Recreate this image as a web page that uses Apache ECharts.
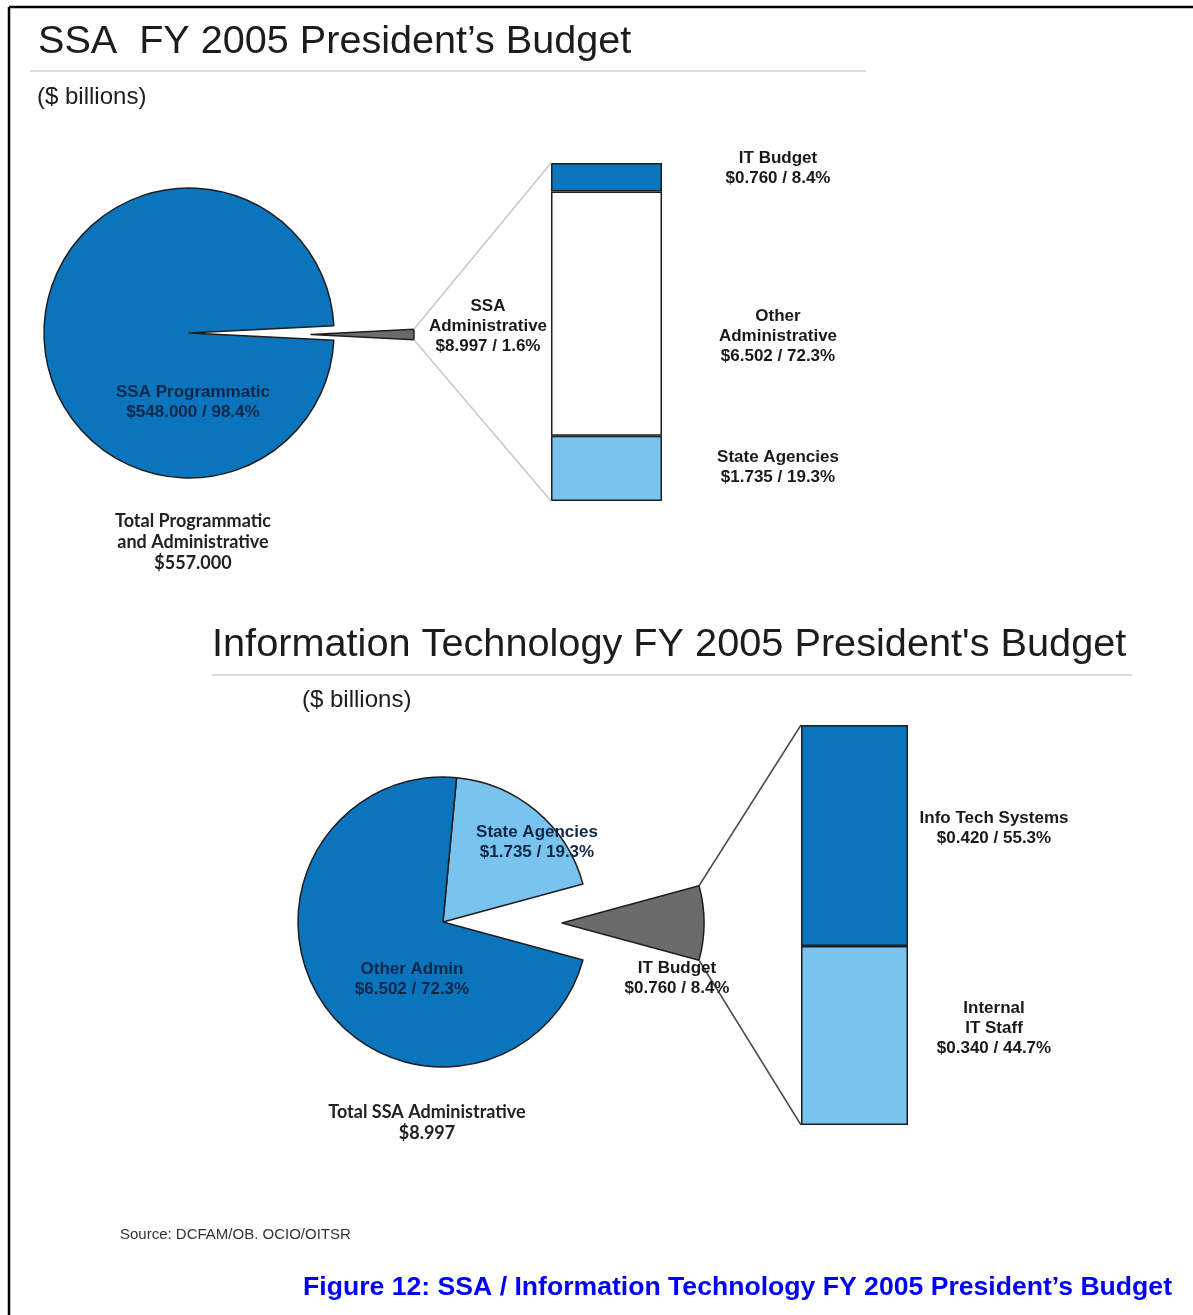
<!DOCTYPE html>
<html><head><meta charset="utf-8">
<script src="https://cdn.jsdelivr.net/npm/echarts@6/dist/echarts.min.js"></script>
<style>html,body{margin:0;padding:0;background:#fff;} #c{width:1193px;height:1315px;}</style>
</head><body><div id="c"></div>
<script>
// ---------- data ----------
const pie1Names = ['SSA\nAdministrative', 'SSA Programmatic'];
const pie1Values = [8.997, 548.000];
const pie1Pcts = [1.6, 98.4];
const pie1Total = 557.000;
const bar1Names = ['State Agencies', 'Other\nAdministrative', 'IT Budget'];
const bar1Values = [1.735, 6.502, 0.760];
const bar1Pcts = [19.3, 72.3, 8.4];
const pie2Names = ['State Agencies', 'IT Budget', 'Other Admin'];
const pie2Values = [1.735, 0.760, 6.502];
const pie2Pcts = [19.3, 8.4, 72.3];
const pie2Total = 8.997;
const bar2Names = ['Internal\nIT Staff', 'Info Tech Systems'];
const bar2Values = [0.340, 0.420];
const bar2Pcts = [44.7, 55.3];
const titles = ['SSA  FY 2005 President\u2019s Budget', "Information Technology FY 2005 President's Budget"];
const unitText = '($ billions)';
const sourceText = 'Source: DCFAM/OB. OCIO/OITSR';
const captionText = 'Figure 12: SSA / Information Technology FY 2005 President\u2019s Budget';

// ---------- styles / layout ----------
const DARK = '#0A74BD', LIGHT = '#79C3EE', GREY = '#6B6B6B', EDGE = '#1E1E1E', NAVY = '#0E2747';
const LBL = 'Liberation Sans, Arial, sans-serif';
const P1 = {cx: 189, cy: 333, r: 145, ex: 311, er: 103};
const P2 = {cx: 443, cy: 922, r: 145, ex: 562, er: 142};
const B1 = {left: 551, top: 163, width: 111, height: 338};
const B2 = {left: 801, top: 725, width: 107, height: 400};

const fmt = (v, p) => '$' + v.toFixed(3) + ' / ' + p.toFixed(1) + '%';
const sum = a => a.reduce((s, v) => s + v, 0);

// pie 1 angles
const p1Sum = sum(pie1Values);
const p1Ang = pie1Values[0] / p1Sum * 360;
const p1Start = p1Ang / 2;
// pie 2 angles
const p2Sum = sum(pie2Values);
const p2State = pie2Values[0] / p2Sum * 360;
const p2It = pie2Values[1] / p2Sum * 360;
const p2Start = p2State + p2It / 2;

const none = {color: 'transparent', borderWidth: 0};
function pieSeries(center, r, start, data) {
  return {type: 'pie', center: center, radius: r, startAngle: start, clockwise: true,
    silent: true, animation: false, label: {show: false}, labelLine: {show: false},
    emphasis: {disabled: true}, data: data};
}
const pieEdge = c => ({color: c, borderColor: EDGE, borderWidth: 1.5});

const series = [
  pieSeries([P1.cx, P1.cy], P1.r, p1Start, [
    {name: pie1Names[0], value: pie1Values[0], itemStyle: none},
    {name: pie1Names[1], value: pie1Values[1], itemStyle: pieEdge(DARK)}]),
  pieSeries([P1.ex, P1.cy + 1.5], P1.er, p1Start, [
    {name: pie1Names[0], value: pie1Values[0], itemStyle: pieEdge(GREY)},
    {name: pie1Names[1], value: pie1Values[1], itemStyle: none}]),
  pieSeries([P2.cx, P2.cy], P2.r, p2Start, [
    {name: pie2Names[0], value: pie2Values[0], itemStyle: pieEdge(LIGHT)},
    {name: pie2Names[1], value: pie2Values[1], itemStyle: none},
    {name: pie2Names[2], value: pie2Values[2], itemStyle: pieEdge(DARK)}]),
  pieSeries([P2.ex, P2.cy + 1], P2.er, p2Start, [
    {name: pie2Names[0], value: pie2Values[0], itemStyle: none},
    {name: pie2Names[1], value: pie2Values[1], itemStyle: pieEdge(GREY)},
    {name: pie2Names[2], value: pie2Values[2], itemStyle: none}])
];

const bar1Colors = [LIGHT, '#FFFFFF', DARK];
const bar1Dy = [-1.5, 23, -9];
bar1Names.forEach((n, i) => series.push({
  type: 'bar', xAxisIndex: 0, yAxisIndex: 0, stack: 'b1', barWidth: '100%', silent: true, animation: false,
  itemStyle: {color: bar1Colors[i], borderColor: EDGE, borderWidth: 1.5},
  label: {show: true, position: [227, '50%'], align: 'center', verticalAlign: 'middle', offset: [0, bar1Dy[i]],
    fontFamily: LBL, fontWeight: 'bold', fontSize: 17, lineHeight: 20, color: '#1A1A1A',
    formatter: () => n + '\n' + fmt(bar1Values[i], bar1Pcts[i])},
  data: [bar1Values[i]]
}));
const bar2Colors = [LIGHT, DARK];
const bar2Dy = [-7.5, -7.5];
bar2Names.forEach((n, i) => series.push({
  type: 'bar', xAxisIndex: 1, yAxisIndex: 1, stack: 'b2', barWidth: '100%', silent: true, animation: false,
  itemStyle: {color: bar2Colors[i], borderColor: EDGE, borderWidth: 1.5},
  label: {show: true, position: [193, '50%'], align: 'center', verticalAlign: 'middle', offset: [0, bar2Dy[i]],
    fontFamily: LBL, fontWeight: 'bold', fontSize: 17, lineHeight: 20, color: '#1A1A1A',
    formatter: () => n + '\n' + fmt(bar2Values[i], bar2Pcts[i])},
  data: [bar2Values[i]]
}));

// ---------- annotations ----------
function txt(x, y, text, o) {
  return {type: 'text', x: x, y: y, silent: true, z: 100,
    style: Object.assign({text: text, fontFamily: LBL, fontWeight: 'bold', fontSize: 17, lineHeight: 20,
      fill: '#1A1A1A', align: 'center', verticalAlign: 'middle'}, o || {})};
}
function line(x1, y1, x2, y2, stroke, w) {
  return {type: 'line', silent: true, z: 50, shape: {x1, y1, x2, y2}, style: {stroke: stroke, lineWidth: w}};
}
const rad = d => d * Math.PI / 180;
// connector lines (grey slice corners -> bar corners)
const c1a = [P1.ex + P1.er * Math.cos(rad(p1Ang / 2)), P1.cy + 1.5 - P1.er * Math.sin(rad(p1Ang / 2))];
const c1b = [P1.ex + P1.er * Math.cos(rad(p1Ang / 2)), P1.cy + 1.5 + P1.er * Math.sin(rad(p1Ang / 2))];
const c2a = [P2.ex + P2.er * Math.cos(rad(p2It / 2)), P2.cy + 1 - P2.er * Math.sin(rad(p2It / 2))];
const c2b = [P2.ex + P2.er * Math.cos(rad(p2It / 2)), P2.cy + 1 + P2.er * Math.sin(rad(p2It / 2))];

const graphics = [
  line(9, 7, 1193, 7, '#000', 2.5),
  line(9, 7, 9, 1315, '#000', 2.5),
  txt(38, 42, titles[0], {align: 'left', fontWeight: 'normal', fontSize: 39.6, fill: '#1C1C1C'}),
  line(30, 71, 866, 71, '#CFCFCF', 1.5),
  txt(37, 97, unitText, {align: 'left', fontWeight: 'normal', fontSize: 24, fill: '#1C1C1C'}),
  txt(212, 645, titles[1], {align: 'left', fontWeight: 'normal', fontSize: 39.7, fill: '#1C1C1C'}),
  line(212, 675, 1132, 675, '#CFCFCF', 1.5),
  txt(302, 700, unitText, {align: 'left', fontWeight: 'normal', fontSize: 24, fill: '#1C1C1C'}),
  line(c1a[0], c1a[1], B1.left, B1.top, '#C8C8C8', 1.5),
  line(c1b[0], c1b[1], B1.left, B1.top + B1.height, '#C8C8C8', 1.5),
  line(c2a[0], c2a[1], B2.left, B2.top, '#4A4A4A', 1.5),
  line(c2b[0], c2b[1], B2.left, B2.top + B2.height, '#4A4A4A', 1.5),
  txt(193, 402, pie1Names[1] + '\n' + fmt(pie1Values[1], pie1Pcts[1]), {fill: NAVY}),
  txt(488, 326, pie1Names[0] + '\n' + fmt(pie1Values[0], pie1Pcts[0])),
  txt(193, 542, 'Total Programmatic\nand Administrative\n$' + pie1Total.toFixed(3),
    {fontFamily: 'Lato, sans-serif', fontSize: 18, lineHeight: 21, fill: '#222'}),
  txt(537, 842, pie2Names[0] + '\n' + fmt(pie2Values[0], pie2Pcts[0]), {fill: NAVY}),
  txt(412, 979, pie2Names[2] + '\n' + fmt(pie2Values[2], pie2Pcts[2]), {fill: NAVY}),
  txt(677, 978, pie2Names[1] + '\n' + fmt(pie2Values[1], pie2Pcts[1])),
  txt(427, 1123, 'Total SSA Administrative\n$' + pie2Total.toFixed(3),
    {fontFamily: 'Lato, sans-serif', fontSize: 18, lineHeight: 21, fill: '#222'}),
  txt(120, 1235, sourceText, {align: 'left', fontWeight: 'normal', fontFamily: 'Liberation Sans Narrow, sans-serif', fontSize: 15, fill: '#333'}),
  txt(1172, 1288, captionText, {align: 'right', fontSize: 26.6, fill: '#0000FF'})
];

const chart = echarts.init(document.getElementById('c'), null, {renderer: 'canvas'});
const hidden = {show: false};
chart.setOption({
  animation: false,
  backgroundColor: '#FFFFFF',
  grid: [Object.assign({}, B1), Object.assign({}, B2)],
  xAxis: [
    {type: 'category', gridIndex: 0, data: ['a'], axisLine: hidden, axisTick: hidden, axisLabel: hidden, splitLine: hidden},
    {type: 'category', gridIndex: 1, data: ['b'], axisLine: hidden, axisTick: hidden, axisLabel: hidden, splitLine: hidden}
  ],
  yAxis: [
    {type: 'value', gridIndex: 0, min: 0, max: sum(bar1Values), axisLine: hidden, axisTick: hidden, axisLabel: hidden, splitLine: hidden},
    {type: 'value', gridIndex: 1, min: 0, max: sum(bar2Values), axisLine: hidden, axisTick: hidden, axisLabel: hidden, splitLine: hidden}
  ],
  series: series,
  graphic: {elements: graphics}
});
</script></body></html>
